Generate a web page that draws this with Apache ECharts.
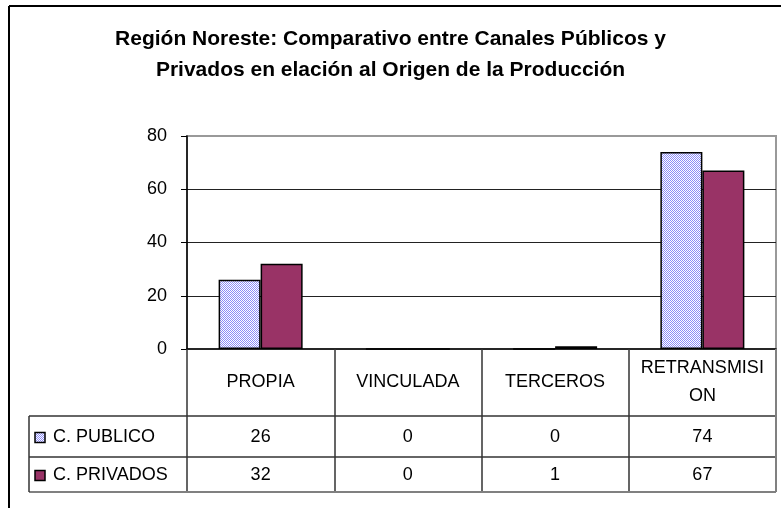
<!DOCTYPE html>
<html><head><meta charset="utf-8">
<script src="https://cdn.jsdelivr.net/npm/echarts@6/dist/echarts.min.js"></script>
<style>html,body{margin:0;padding:0;background:#fff}#c{width:781px;height:508px}</style>
</head><body><div id="c"></div>
<script>
const titleText = 'Región Noreste: Comparativo entre Canales Públicos y\nPrivados en elación al Origen de la Producción';
const categories = ['PROPIA', 'VINCULADA', 'TERCEROS', 'RETRANSMISION'];
const categoryLabels = ['PROPIA', 'VINCULADA', 'TERCEROS', 'RETRANSMISI\nON'];
const seriesNames = ['C. PUBLICO', 'C. PRIVADOS'];
const publico = [26, 0, 0, 74];
const privados = [32, 0, 1, 67];
const yTickLabels = ['0', '20', '40', '60', '80'];

const FONT = "'Liberation Sans', Arial, sans-serif";
const pc = document.createElement('canvas'); pc.width = 2; pc.height = 2;
const g = pc.getContext('2d');
g.fillStyle = '#ffffff'; g.fillRect(0, 0, 2, 2);
g.fillStyle = '#8c8cf8'; g.fillRect(0, 0, 1, 1); g.fillRect(1, 1, 1, 1);
const pattern = { image: pc, repeat: 'repeat' };
const plum = '#993366';
const seriesFills = [pattern, plum];
const seriesData = [publico, privados];

const chart = echarts.init(document.getElementById('c'), null, { renderer: 'canvas' });
chart.setOption({
  animation: false,
  title: {
    text: titleText, left: 'center', top: 24, padding: 0,
    textStyle: { fontFamily: FONT, fontSize: 21, fontWeight: 'bold', color: '#000', lineHeight: 31 }
  },
  grid: { left: 187, right: 5, top: 136, bottom: 159, show: true, borderColor: '#999', borderWidth: 2 },
  xAxis: {
    type: 'category', data: categories,
    axisLine: { lineStyle: { color: '#000', width: 1.5 } },
    axisTick: { show: true, length: 143, lineStyle: { color: '#333', width: 1.5 } },
    axisLabel: {
      interval: 0, formatter: (v, i) => categoryLabels[i],
      fontFamily: FONT, fontSize: 18, color: '#000', margin: 33, verticalAlign: 'middle', lineHeight: 28
    }
  },
  yAxis: {
    type: 'value', min: 0, max: 80, interval: 20,
    axisLine: { show: true, lineStyle: { color: '#000', width: 1.5 } },
    axisTick: { show: true, length: 6, lineStyle: { color: '#000' } },
    axisLabel: { fontFamily: FONT, fontSize: 18, color: '#000', margin: 20, formatter: (v) => yTickLabels[v / 20] },
    splitLine: { show: true, showMaxLine: false, showMinLine: false, lineStyle: { color: '#222', width: 1.2 } }
  },
  series: [
    { name: seriesNames[0], type: 'bar', data: publico, barWidth: 42, barGap: '0%',
      itemStyle: { color: pattern, borderColor: '#000', borderWidth: 1.5 } },
    { name: seriesNames[1], type: 'bar', data: privados, barWidth: 42, barGap: '0%',
      itemStyle: { color: plum, borderColor: '#000', borderWidth: 1.5 } }
  ]
});

// data table under the axis
const step = chart.convertToPixel({ xAxisIndex: 0 }, 1) - chart.convertToPixel({ xAxisIndex: 0 }, 0);
const y0 = chart.convertToPixel({ yAxisIndex: 0 }, 0);
const xRight = chart.convertToPixel({ xAxisIndex: 0 }, categories.length - 1) + step / 2;
const rowTop = y0 + 67, rowSep = y0 + 108, rowBot = y0 + 143;
const tLeft = 29;
const rowCenters = [(rowTop + rowSep) / 2 + 1, (rowSep + rowBot) / 2 + 1];
const els = [];
const line = (x1, y1, x2, y2, color, w) => els.push({ type: 'line', shape: { x1, y1, x2, y2 }, style: { stroke: color, lineWidth: w }, z: 10 });
line(tLeft, rowTop, xRight, rowTop, '#333', 1.5);
line(tLeft, rowSep, xRight, rowSep, '#333', 1.5);
line(tLeft, rowBot, xRight, rowBot, '#808080', 2);
line(tLeft, rowTop, tLeft, rowBot, '#333', 1.5);
line(xRight, y0, xRight, rowBot, '#808080', 2);
seriesNames.forEach((name, s) => {
  const cy = rowCenters[s];
  els.push({ type: 'rect', shape: { x: 35, y: cy - 5, width: 10, height: 10 }, style: { fill: seriesFills[s], stroke: '#000', lineWidth: 1.5 }, z: 10 });
  els.push({ type: 'text', style: { text: name, x: 53, y: cy, align: 'left', verticalAlign: 'middle', fontFamily: FONT, fontSize: 18, fill: '#000' }, z: 10 });
  seriesData[s].forEach((v, i) => {
    els.push({ type: 'text', style: { text: String(v), x: chart.convertToPixel({ xAxisIndex: 0 }, i), y: cy, align: 'center', verticalAlign: 'middle', fontFamily: FONT, fontSize: 18, fill: '#000' }, z: 10 });
  });
});
// outer frame
line(9, 6, 781, 6, '#000', 2);
line(9, 6, 9, 508, '#000', 2);
chart.setOption({ graphic: els });
</script></body></html>
